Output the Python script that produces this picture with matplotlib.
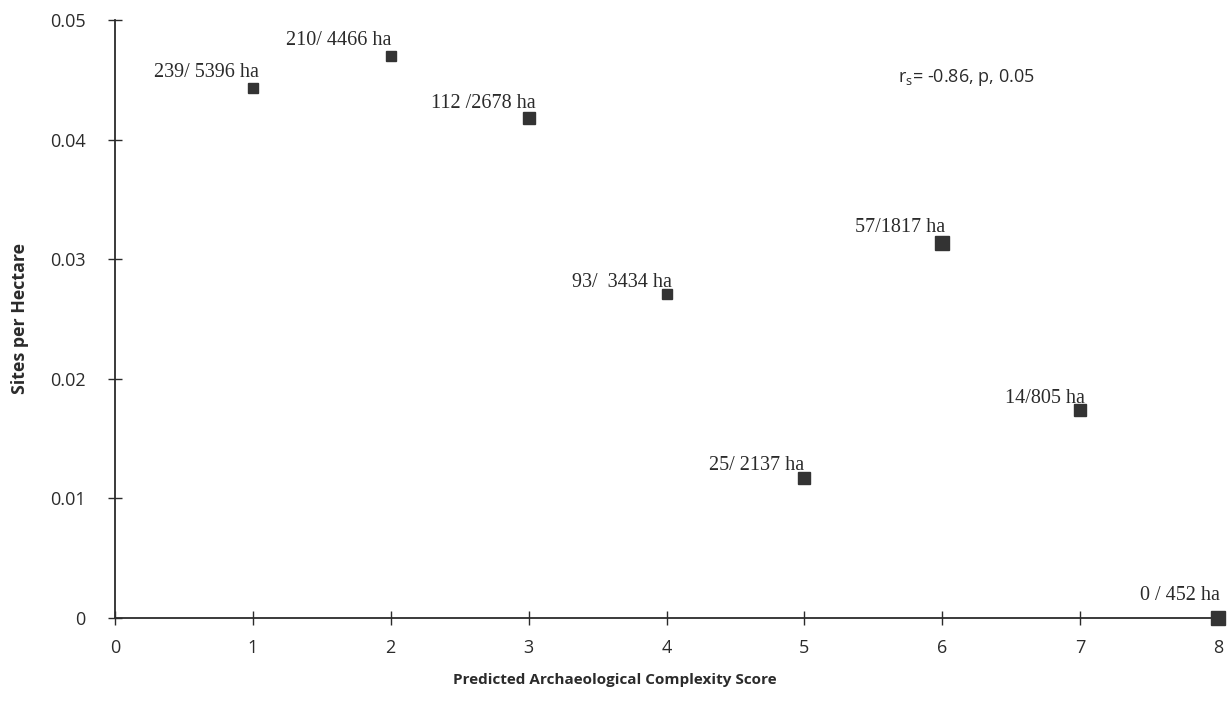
import matplotlib
matplotlib.use("Agg")
import matplotlib.pyplot as plt

# Data
scores = [1, 2, 3, 4, 5, 6, 7, 8]
sites = [239, 210, 112, 93, 25, 57, 14, 0]
hectares = [5396, 4466, 2678, 3434, 2137, 1817, 805, 452]
density = [0.04429, 0.04702, 0.04182, 0.02708, 0.01170, 0.03137, 0.01739, 0.0]
point_labels = ["239/ 5396 ha", "210/ 4466 ha", "112 /2678 ha", "93/  3434 ha",
                "25/ 2137 ha", "57/1817 ha", "14/805 ha", "0 / 452 ha"]
x_ticks = [0, 1, 2, 3, 4, 5, 6, 7, 8]
y_ticks = [0, 0.01, 0.02, 0.03, 0.04, 0.05]
y_tick_labels = ["0", "0.01", "0.02", "0.03", "0.04", "0.05"]
stat_text = r"r$_\mathregular{s}$= -0.86, p, 0.05"

# Styling (layout only)
label_offsets_px = [(6, 11), (1, 11), (7, 10), (5, 7), (0, 8), (3, 11), (5, 7), (2, 18)]
marker_sizes = [7.5, 7.5, 8, 7.5, 8, 10.5, 8.5, 10]

DPI = 100
fig = plt.figure(figsize=(12.28, 7.07), dpi=DPI)
ax = fig.add_axes([115 / 1228, 1 - 618 / 707, (1218 - 115) / 1228, (618 - 20) / 707])

ink = "#2b2b2b"
for xv, yv, lab, (dx, dy), ms in zip(scores, density, point_labels, label_offsets_px, marker_sizes):
    ax.plot([xv], [yv], marker="s", markersize=ms, color="#333333", linestyle="none",
            clip_on=False, zorder=3)
    ax.annotate(lab, (xv, yv), xytext=(dx * 0.72, dy * 0.72), textcoords="offset points",
                ha="right", va="baseline", fontsize=14.5, family="Liberation Serif", color=ink)

ax.set_xlim(0, 8)
ax.set_ylim(0, 0.05)
ax.set_xticks(x_ticks)
ax.set_xticklabels([str(t) for t in x_ticks])
ax.set_yticks(y_ticks)
ax.set_yticklabels(y_tick_labels)

for s in ["top", "right"]:
    ax.spines[s].set_visible(False)
for s in ["left", "bottom"]:
    ax.spines[s].set_color(ink)
    ax.spines[s].set_linewidth(1.3)

ax.tick_params(direction="inout", length=10, width=1.0, color=ink,
               labelsize=13, labelcolor=ink)
ax.tick_params(axis="y", pad=16)
ax.tick_params(axis="x", pad=10)
for t in ax.get_xticklabels() + ax.get_yticklabels():
    t.set_family("Open Sans")

ax.set_xlabel("Predicted Archaeological Complexity Score", fontsize=11,
              fontweight="bold", family="Open Sans", color=ink)
ax.xaxis.set_label_coords((615 - 115) / 1103, -(680 - 618) / 598)
ax.xaxis.label.set_va("center")
ax.set_ylabel("Sites per Hectare", fontsize=12.8, fontweight="bold",
              family="Open Sans", color=ink)
ax.yaxis.set_label_coords((20 - 115) / 1103, (618 - 318) / 598)
ax.yaxis.label.set_va("center")

ax.text(5.68, 0.0448, stat_text, fontsize=13, family="Open Sans", color=ink,
        ha="left", va="baseline")

fig.savefig("out.png", dpi=DPI, facecolor="white")
